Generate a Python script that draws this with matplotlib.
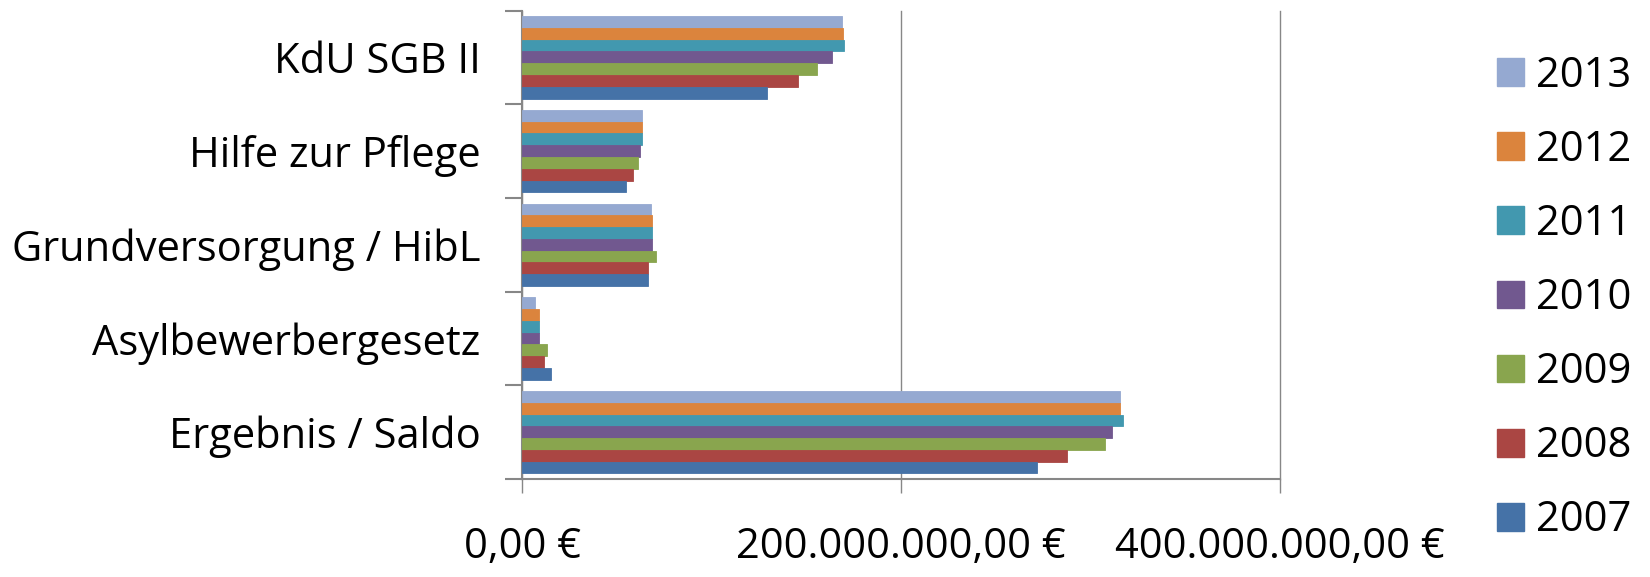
import numpy as np
import matplotlib.pyplot as plt
from matplotlib.ticker import FixedLocator, FuncFormatter
from matplotlib.patches import Patch

plt.rcParams['font.family'] = ['Open Sans', 'DejaVu Sans']

categories = ["KdU SGB II", "Hilfe zur Pflege", "Grundversorgung / HibL",
              "Asylbewerbergesetz", "Ergebnis / Saldo"]
years = ["2013", "2012", "2011", "2010", "2009", "2008", "2007"]

# Euro per year, one list per category (2013 ... 2007)
kdu = [169.0e6, 169.1e6, 170.0e6, 163.7e6, 155.7e6, 145.5e6, 129.3e6]
pflege = [63.2e6, 63.2e6, 63.2e6, 62.5e6, 61.1e6, 58.4e6, 55.0e6]
grundvers = [67.9e6, 68.6e6, 68.6e6, 68.6e6, 70.5e6, 66.7e6, 66.7e6]
asyl = [7.0e6, 9.1e6, 9.1e6, 9.1e6, 13.2e6, 11.8e6, 15.3e6]
saldo = [315.6e6, 315.6e6, 316.9e6, 311.2e6, 307.5e6, 287.5e6, 271.9e6]

colors = ["#95A9D1", "#DB843D", "#4298AF", "#71588F", "#89A54E", "#AA4643", "#4572A7"]

values = np.array([kdu, pflege, grundvers, asyl, saldo])

fig = plt.figure(figsize=(16.5, 5.77), dpi=100)
ax = fig.add_axes([0.3164, 0.1698, 0.4594, 0.812])

n_cat = len(categories)
n_yr = len(years)
group = 0.88
h = group / n_yr
centers = np.arange(n_cat)[::-1]  # first category on top

for j, (yr, col) in enumerate(zip(years, colors)):
    # 2013 top of each group, 2007 bottom
    offs = group / 2 - h / 2 - j * h
    ax.barh(centers + offs, values[:, j], height=h, color=col,
            edgecolor=col, linewidth=0.6, label=yr, zorder=3)

ax.set_xlim(0, 400e6)
ax.set_ylim(-0.5, n_cat - 0.5)

grey = "#878787"
ax.xaxis.set_major_locator(FixedLocator([0, 200e6, 400e6]))
ax.xaxis.set_major_formatter(FuncFormatter(
    lambda v, p: "{:,.2f} €".format(v).replace(",", "X").replace(".", ",").replace("X", ".")))
ax.grid(axis='x', color=grey, linewidth=1.0, zorder=0)
for gl in ax.get_xgridlines():
    gl.set_clip_on(False)

ax.set_yticks(centers)
ax.set_yticklabels(categories)
ax.yaxis.set_minor_locator(FixedLocator(np.arange(n_cat + 1) - 0.5))
ax.tick_params(axis='y', which='major', length=0, pad=30, labelsize=30)
ax.tick_params(axis='y', which='minor', length=12, width=1.5, color=grey, direction='out')
ax.tick_params(axis='x', which='major', length=10, width=1.0, color=grey,
               direction='out', pad=24, labelsize=30)

for s in ['top', 'right']:
    ax.spines[s].set_visible(False)
for s in ['left', 'bottom']:
    ax.spines[s].set_color(grey)
    ax.spines[s].set_linewidth(1.5)

handles = [Patch(facecolor=c, edgecolor=c) for c in colors]
fig.legend(handles, years, loc='upper left', bbox_to_anchor=(0.907, 0.905),
           frameon=False, fontsize=30, handlelength=0.65, handleheight=0.65,
           handletextpad=0.3, labelspacing=0.77, borderpad=0, borderaxespad=0)

fig.savefig("out.png", dpi=100)
